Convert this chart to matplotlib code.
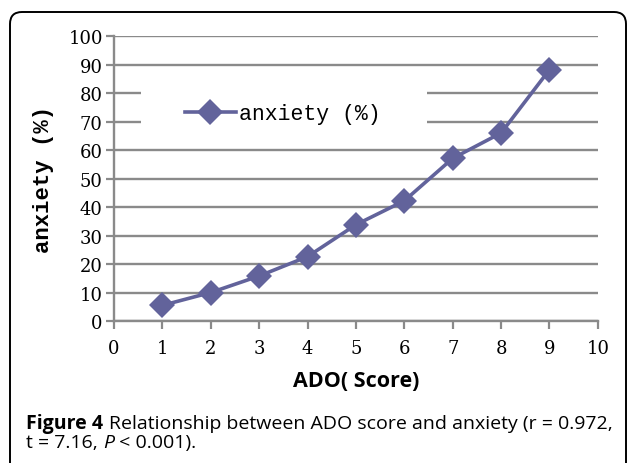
import numpy as np
import matplotlib
matplotlib.use("Agg")
import matplotlib.pyplot as plt
from matplotlib.patches import FancyBboxPatch, Rectangle
from matplotlib.transforms import IdentityTransform

# data
ado_score = [1, 2, 3, 4, 5, 6, 7, 8, 9]
anxiety_pct = [5.5, 10.0, 15.8, 22.6, 33.8, 42.2, 57.1, 66.0, 88.2]
x_ticks = list(range(0, 11))
y_ticks = list(range(0, 101, 10))

line_col = "#62639b"
grid_col = "#8a8a8a"

fig = plt.figure(figsize=(6.28, 4.64), dpi=100)
ax = fig.add_axes([0.1815, 0.306, 0.7705, 0.614])

ax.plot(ado_score, anxiety_pct, color=line_col, linewidth=2.6,
        marker="D", markersize=13, markeredgewidth=0, zorder=5,
        label="anxiety (%)")

ax.set_xlim(0, 10)
ax.set_ylim(0, 100)
ax.set_xticks(x_ticks)
ax.set_yticks(y_ticks)
ax.set_xticklabels([str(v) for v in x_ticks], family="DejaVu Serif", fontsize=13)
ax.set_yticklabels([str(v) for v in y_ticks], family="DejaVu Serif", fontsize=13)
ax.tick_params(axis="both", direction="out", length=6, width=1.6, color=grid_col)
ax.tick_params(axis="x", pad=7)
ax.tick_params(axis="y", pad=2)
ax.yaxis.grid(True, color=grid_col, linewidth=1.7)
ax.set_axisbelow(True)
for s in ["top", "right"]:
    ax.spines[s].set_visible(False)
for s in ["left", "bottom"]:
    ax.spines[s].set_color(grid_col)
    ax.spines[s].set_linewidth(1.7)

# white area behind the legend (hides gridlines)
ax.add_patch(Rectangle((0.056, 0.63), 0.59, 0.2, transform=ax.transAxes,
                       facecolor="white", edgecolor="none", zorder=2))
leg = ax.legend(loc="center left", bbox_to_anchor=(0.128, 0.728), frameon=False,
                prop={"family": "Liberation Mono", "size": 15.5},
                handlelength=2.4, handletextpad=0.15, borderaxespad=0)

ax.set_ylabel("anxiety (%)", family="Liberation Mono", fontsize=16,
              fontweight="bold", labelpad=10)
ax.set_xlabel("ADO( Score)", family="Open Sans", fontsize=15.5,
              fontweight="bold", labelpad=9)

# caption, drawn piece by piece so bold / italic parts line up
fig.canvas.draw()
renderer = fig.canvas.get_renderer()
cap_size = 14


def put_pieces(x0, y0, pieces):
    x = x0
    for txt, weight, style in pieces:
        t = fig.text(x, y0, txt, fontsize=cap_size, family="Open Sans",
                     fontweight=weight, fontstyle=style, va="baseline")
        w = t.get_window_extent(renderer=renderer).width
        x += w / fig.bbox.width


put_pieces(0.042, 0.076, [("Figure 4 ", "bold", "normal"),
                          ("Relationship between ADO score and anxiety (r = 0.972,",
                           "normal", "normal")])
put_pieces(0.042, 0.035, [("t = 7.16, ", "normal", "normal"),
                          ("P", "normal", "italic"),
                          (" < 0.001).", "normal", "normal")])

# rounded frame
box = FancyBboxPatch((10, -30), 616, 481, boxstyle="round,pad=0,rounding_size=12",
                     transform=IdentityTransform(), facecolor="none",
                     edgecolor="black", linewidth=1.4)
fig.add_artist(box)

fig.savefig("out.png", dpi=100)
